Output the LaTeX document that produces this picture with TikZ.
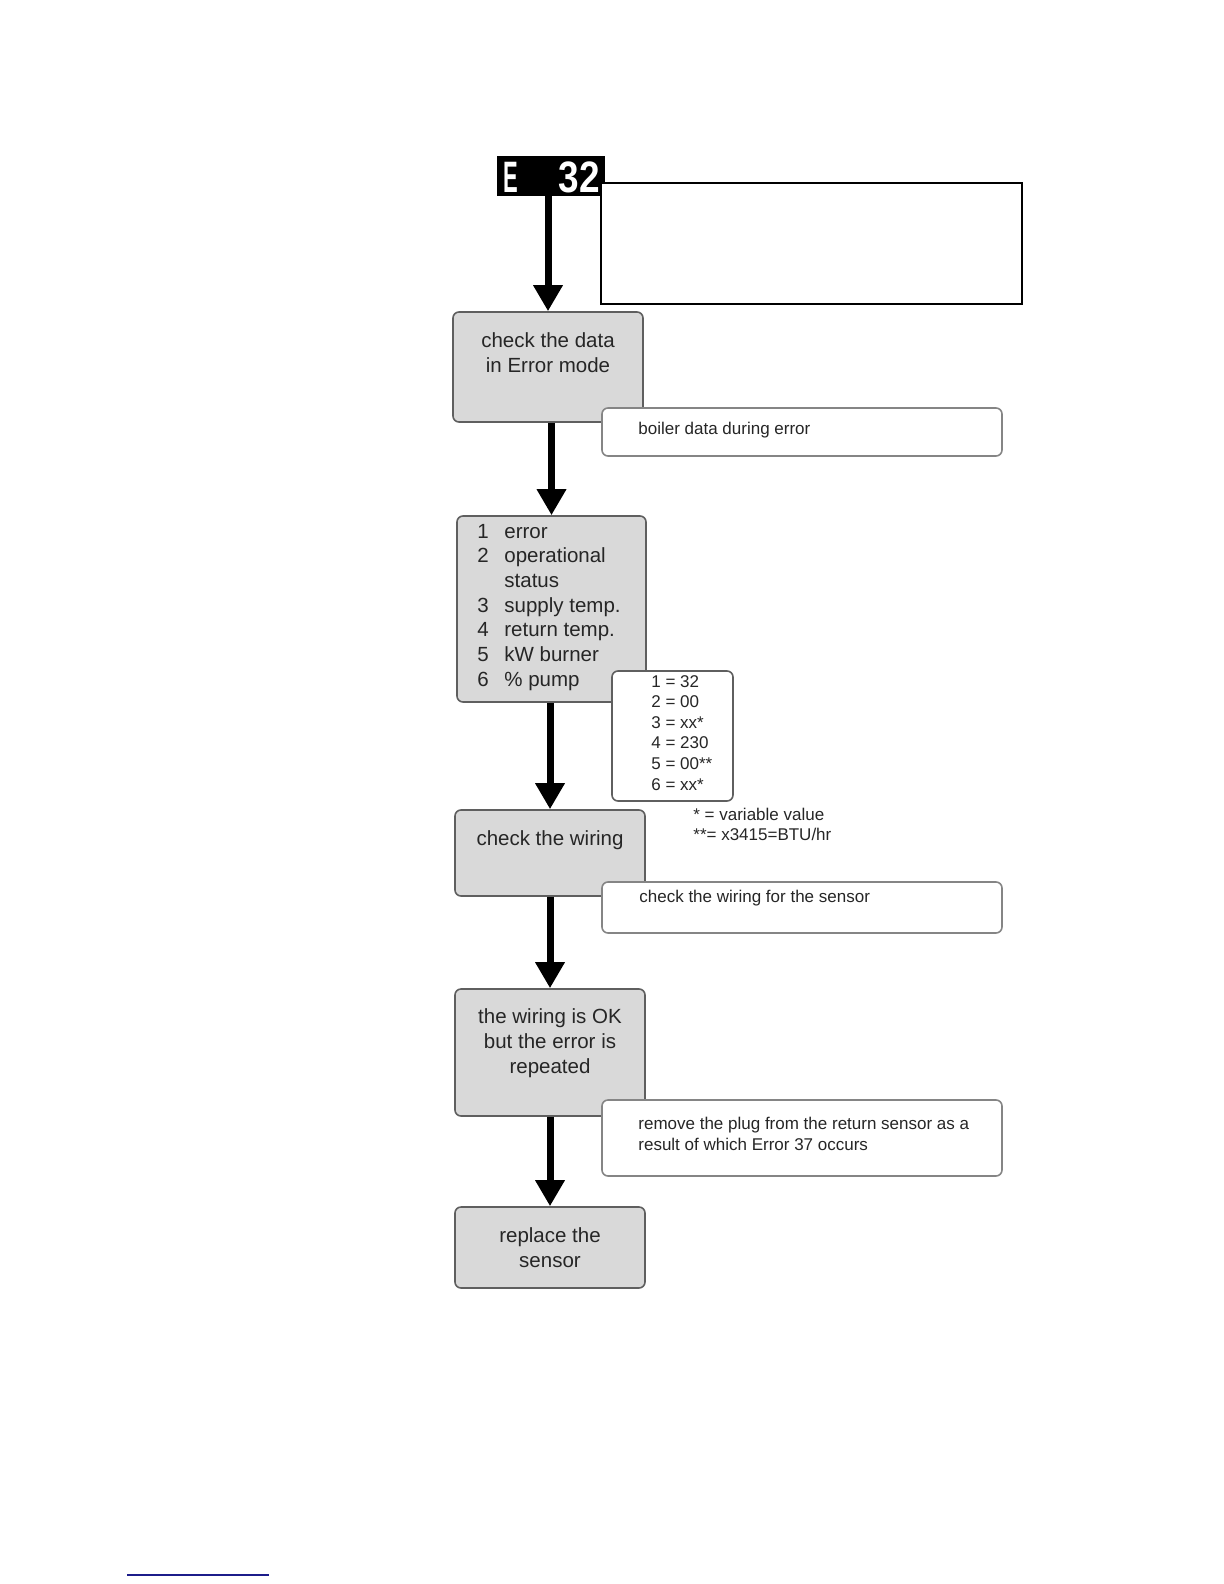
\documentclass[tikz,border=0pt]{standalone}
\usepackage{fontspec}
\setmainfont{Liberation Sans}
\usetikzlibrary{arrows.meta,fit}
\definecolor{boxfill}{HTML}{D9D9D9}
\definecolor{boxline}{HTML}{5F5F5F}
\definecolor{noteline}{HTML}{858585}
\definecolor{txt}{HTML}{262626}
\definecolor{linkblue}{HTML}{1C1C8A}
\begin{document}
\begin{tikzpicture}[x=0.5pt,y=-0.5pt,
 stepbox/.style={draw=boxline, line width=0.8pt, fill=boxfill, rounded corners=3pt, inner sep=0pt},
 notebox/.style={draw=noteline, line width=0.8pt, fill=white, rounded corners=3pt, inner sep=0pt},
 bigtxt/.style={font=\fontsize{10.25}{12.5}\selectfont, text=txt, inner sep=0pt, anchor=base},
 smalltxt/.style={font=\fontsize{8.5}{10.5}\selectfont, text=txt, inner sep=0pt, anchor=base west},
 listtxt/.style={font=\fontsize{10.25}{12.5}\selectfont, text=txt, inner sep=0pt, anchor=base west},
 segtxt/.style={text=white, font=\fontsize{22}{22}\selectfont\bfseries, inner sep=0pt},
 arr/.style={line width=3.5pt, -{Triangle[width=14pt,length=13pt]}},
]
\useasboundingbox (0,0) rectangle (1224,1584);

% display
\node[fill=black, inner sep=0pt, fit={(497,156) (605,196)}] (e32) {};
\node[segtxt, anchor=base west] (e32e) at (503,192) {\scalebox{0.5}[1]{E}};
\node[segtxt, anchor=base east] (e32n) at (600,192) {\scalebox{0.84}[1]{32}};

% empty framed box
\node[draw=black, line width=0.7pt, fill=white, inner sep=0pt, fit={(601,183) (1022,304)}] (topnote) {};

% step 1
\node[stepbox, fit={(453,312) (643,422)}] (b1) {};
\node[bigtxt] (t1a) at (548,347) {check the data};
\node[bigtxt] (t1b) at (548,372) {in Error mode};
\node[notebox, fit={(602,408) (1002,456)}] (n1) {};
\node[smalltxt] (n1t) at (638,434) {boiler data during error};

% step 2
\node[stepbox, fit={(457,516) (646,702)}] (b2) {};
\node[listtxt] (l1) at (477,538.0) {\makebox[13.5pt][l]{1}error};
\node[listtxt] (l2) at (477,562.7) {\makebox[13.5pt][l]{2}operational};
\node[listtxt] (l2b) at (477,587.4) {\makebox[13.5pt][l]{}status};
\node[listtxt] (l3) at (477,612.1) {\makebox[13.5pt][l]{3}supply temp.};
\node[listtxt] (l4) at (477,636.8) {\makebox[13.5pt][l]{4}return temp.};
\node[listtxt] (l5) at (477,661.5) {\makebox[13.5pt][l]{5}kW burner};
\node[listtxt] (l6) at (477,686.2) {\makebox[13.5pt][l]{6}\% pump};

\node[notebox, draw=boxline, fit={(612,671) (733,801)}] (vals) {};
\node[smalltxt] (v1) at (651,687.0) {1 = 32};
\node[smalltxt] (v2) at (651,707.6) {2 = 00};
\node[smalltxt] (v3) at (651,728.2) {3 = xx*};
\node[smalltxt] (v4) at (651,748.8) {4 = 230};
\node[smalltxt] (v5) at (651,769.4) {5 = 00**};
\node[smalltxt] (v6) at (651,790.0) {6 = xx*};

\node[smalltxt] (fn1) at (693,820) {* = variable value};
\node[smalltxt] (fn2) at (693,840) {**= x3415=BTU/hr};

% step 3
\node[stepbox, fit={(455,810) (645,896)}] (b3) {};
\node[bigtxt] (t3) at (550,845) {check the wiring};
\node[notebox, fit={(602,882) (1002,933)}] (n3) {};
\node[smalltxt] (n3t) at (639,902) {check the wiring for the sensor};

% step 4
\node[stepbox, fit={(455,989) (645,1116)}] (b4) {};
\node[bigtxt] (t4a) at (550,1023) {the wiring is OK};
\node[bigtxt] (t4b) at (550,1048) {but the error is};
\node[bigtxt] (t4c) at (550,1073) {repeated};
\node[notebox, fit={(602,1100) (1002,1176)}] (n4) {};
\node[smalltxt] (n4a) at (638,1129) {remove the plug from the return sensor as a};
\node[smalltxt] (n4b) at (638,1150) {result of which Error 37 occurs};

% step 5
\node[stepbox, fit={(455,1207) (645,1288)}] (b5) {};
\node[bigtxt] (t5a) at (550,1242) {replace the};
\node[bigtxt] (t5b) at (550,1267) {sensor};

% arrows
\draw[arr] (e32.south -| b1.north) -- (b1.north);
\draw[arr] (b1.south -| b2.north) -- (b2.north);
\draw[arr] (b2.south -| b3.north) -- (b3.north);
\draw[arr] (b3.south -| b4.north) -- (b4.north);
\draw[arr] (b4.south -| b5.north) -- (b5.north);

% footer line
\coordinate (bl1) at (127,1575);
\coordinate (bl2) at (269,1575);
\draw[linkblue, line width=0.9pt] (bl1) -- (bl2);
\end{tikzpicture}
\end{document}
